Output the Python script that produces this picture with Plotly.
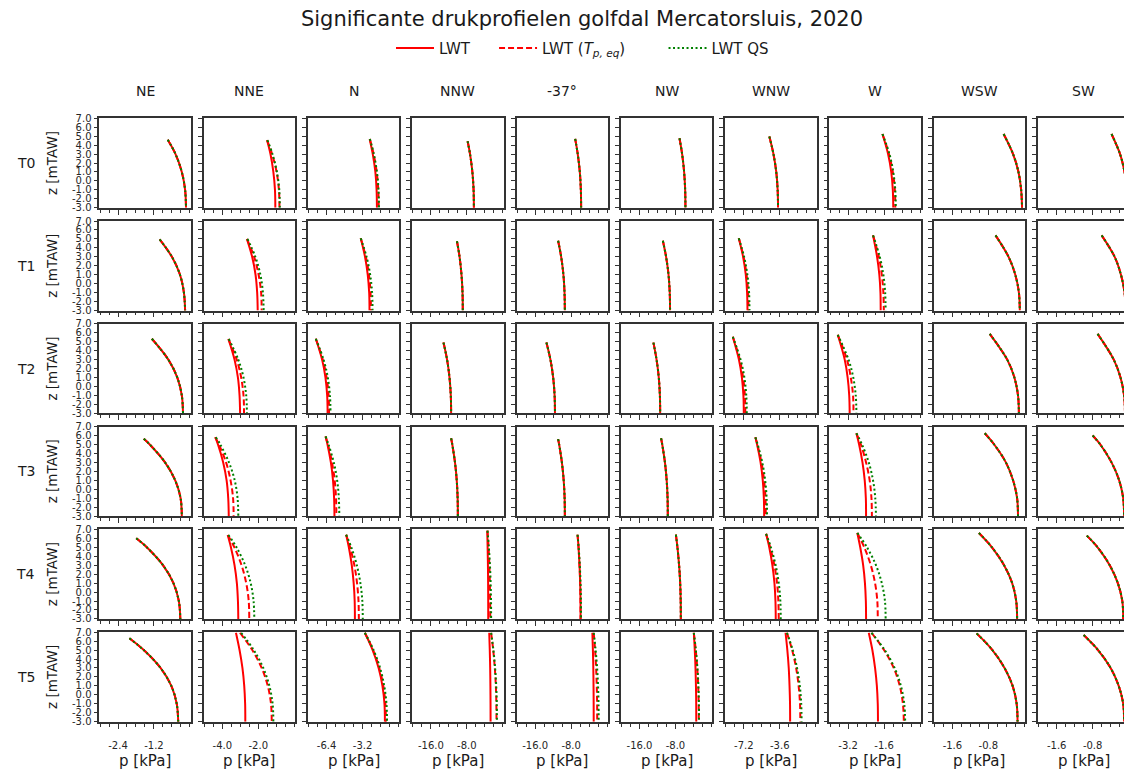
import plotly.graph_objects as go

W, H = 1124, 773

directions = ["NE", "NNE", "N", "NNW", "-37°", "NW", "WNW", "W", "WSW", "SW"]
storms = ["T0", "T1", "T2", "T3", "T4", "T5"]

# x axis per column: labelled ticks, minor tick step, axis extent (kPa)
x_major = [[-2.4, -1.2], [-4.0, -2.0], [-6.4, -3.2], [-16.0, -8.0], [-16.0, -8.0],
           [-16.0, -8.0], [-7.2, -3.6], [-3.2, -1.6], [-1.6, -0.8], [-1.6, -0.8]]
x_minor = [0.3, 0.5, 0.8, 2.0, 2.0, 2.0, 0.9, 0.4, 0.2, 0.2]
x_extent = [3.0, 5.0, 8.0, 20.0, 20.0, 20.0, 9.0, 4.0, 2.0, 2.0]

y_ticks = [-3.0, -2.0, -1.0, 0.0, 1.0, 2.0, 3.0, 4.0, 5.0, 6.0, 7.0]

# z levels below the profile top (m TAW)
Z_SHORT = [3.0, 1.0, -1.0, -3.0]
Z_LONG = [5.0, 3.0, 1.0, -1.0, -3.0]

# ---------------- T0 ----------------
T0_ztop = [4.6, 4.55, 4.69, 4.43, 4.69, 4.77, 4.95, 5.24, 5.24, 5.24]
T0_lwt = [[-0.74, -0.48, -0.27, -0.16, -0.13], [-1.51, -1.32, -1.16, -1.07, -1.05],
          [-2.57, -2.29, -2.06, -1.95, -1.92], [-7.83, -7.29, -6.77, -6.50, -6.43],
          [-7.10, -6.53, -6.07, -5.84, -5.78], [-7.10, -6.51, -6.07, -5.84, -5.78],
          [-4.64, -4.23, -3.95, -3.81, -3.77], [-1.67, -1.42, -1.28, -1.21, -1.19],
          [-0.46, -0.25, -0.13, -0.07, -0.05], [-0.38, -0.19, -0.09, -0.03, -0.02]]
T0_tpeq = [[-0.74, -0.48, -0.27, -0.16, -0.13], [-1.51, -1.23, -0.98, -0.85, -0.82],
           [-2.55, -2.21, -1.94, -1.80, -1.76], [-7.83, -7.29, -6.77, -6.50, -6.43],
           [-7.10, -6.53, -6.07, -5.84, -5.78], [-7.10, -6.51, -6.07, -5.84, -5.78],
           [-4.64, -4.23, -3.95, -3.81, -3.77], [-1.67, -1.38, -1.21, -1.12, -1.10],
           [-0.46, -0.25, -0.13, -0.07, -0.05], [-0.38, -0.19, -0.09, -0.03, -0.02]]
T0_qs = [[-0.74, -0.48, -0.27, -0.16, -0.13], [-1.49, -1.21, -0.96, -0.83, -0.80],
         [-2.55, -2.20, -1.92, -1.78, -1.74], [-7.83, -7.29, -6.77, -6.50, -6.43],
         [-7.10, -6.53, -6.07, -5.84, -5.78], [-7.10, -6.51, -6.07, -5.84, -5.78],
         [-4.64, -4.23, -3.95, -3.81, -3.77], [-1.67, -1.36, -1.19, -1.10, -1.08],
         [-0.46, -0.25, -0.13, -0.07, -0.05], [-0.38, -0.19, -0.09, -0.03, -0.02]]

# ---------------- T1 ----------------
T1_ztop = [4.96, 5.0, 5.07, 4.74, 4.8, 4.8, 5.07, 5.4, 5.4, 5.4]
T1_lwt = [[-1.01, -0.60, -0.33, -0.20, -0.16], [-2.63, -2.34, -2.15, -2.06, -2.03],
          [-3.36, -2.98, -2.74, -2.61, -2.58], [-10.2, -9.62, -9.19, -8.96, -8.9],
          [-10.9, -10.22, -9.72, -9.47, -9.4], [-10.8, -10.08, -9.54, -9.27, -9.2],
          [-7.7, -7.27, -7.00, -6.87, -6.83], [-2.09, -1.91, -1.81, -1.76, -1.75],
          [-0.64, -0.35, -0.20, -0.12, -0.10], [-0.60, -0.31, -0.17, -0.09, -0.07]]
T1_tpeq = [[-1.01, -0.60, -0.33, -0.20, -0.16], [-2.63, -2.23, -1.98, -1.84, -1.81],
           [-3.36, -2.91, -2.63, -2.49, -2.45], [-10.2, -9.62, -9.19, -8.96, -8.9],
           [-10.9, -10.22, -9.72, -9.47, -9.4], [-10.8, -10.08, -9.54, -9.27, -9.2],
           [-7.7, -7.22, -6.92, -6.77, -6.73], [-2.09, -1.83, -1.70, -1.63, -1.61],
           [-0.64, -0.35, -0.20, -0.12, -0.10], [-0.60, -0.31, -0.17, -0.09, -0.07]]
T1_qs = [[-1.01, -0.60, -0.33, -0.20, -0.16], [-2.60, -2.16, -1.88, -1.74, -1.70],
         [-3.36, -2.84, -2.52, -2.35, -2.31], [-10.2, -9.62, -9.19, -8.96, -8.9],
         [-10.9, -10.22, -9.72, -9.47, -9.4], [-10.8, -10.08, -9.54, -9.27, -9.2],
         [-7.7, -7.17, -6.84, -6.67, -6.63], [-2.09, -1.79, -1.63, -1.55, -1.53],
         [-0.64, -0.35, -0.20, -0.12, -0.10], [-0.60, -0.31, -0.17, -0.09, -0.07]]

# ---------------- T2 ----------------
T2_ztop = [5.33, 5.3, 5.33, 4.9, 4.9, 4.9, 5.55, 5.77, 5.88, 5.88]
T2_lwt = [[-1.27, -0.72, -0.42, -0.27, -0.23], [-3.66, -3.32, -3.13, -3.04, -3.01],
          [-7.36, -6.80, -6.50, -6.35, -6.31], [-13.2, -12.40, -11.86, -11.57, -11.5],
          [-13.5, -12.61, -12.00, -11.68, -11.6], [-12.9, -12.20, -11.71, -11.46, -11.4],
          [-8.3, -7.69, -7.39, -7.24, -7.2], [-3.66, -3.35, -3.22, -3.15, -3.13],
          [-0.77, -0.38, -0.22, -0.14, -0.12], [-0.69, -0.33, -0.18, -0.10, -0.08]]
T2_tpeq = [[-1.27, -0.72, -0.42, -0.27, -0.23], [-3.66, -3.20, -2.95, -2.82, -2.79],
           [-7.36, -6.74, -6.40, -6.22, -6.18], [-13.2, -12.40, -11.86, -11.57, -11.5],
           [-13.5, -12.61, -12.00, -11.68, -11.6], [-12.9, -12.20, -11.71, -11.46, -11.4],
           [-8.3, -7.60, -7.27, -7.09, -7.05], [-3.66, -3.25, -3.08, -2.98, -2.96],
           [-0.77, -0.38, -0.22, -0.14, -0.12], [-0.69, -0.33, -0.18, -0.10, -0.08]]
T2_qs = [[-1.27, -0.72, -0.42, -0.27, -0.23], [-3.64, -3.11, -2.82, -2.67, -2.63],
         [-7.36, -6.67, -6.29, -6.10, -6.05], [-13.2, -12.40, -11.86, -11.57, -11.5],
         [-13.5, -12.61, -12.00, -11.68, -11.6], [-12.9, -12.20, -11.71, -11.46, -11.4],
         [-8.3, -7.52, -7.14, -6.95, -6.9], [-3.66, -3.18, -2.97, -2.86, -2.83],
         [-0.77, -0.38, -0.22, -0.14, -0.12], [-0.69, -0.33, -0.18, -0.10, -0.08]]

# ---------------- T3 ----------------
T3_ztop = [5.63, 5.81, 5.9, 5.7, 5.6, 5.7, 5.8, 6.25, 6.25, 6.0]
T3_lwt = [[-1.54, -1.34, -0.83, -0.49, -0.31, -0.27], [-4.39, -4.24, -3.95, -3.76, -3.67, -3.64],
          [-6.49, -6.32, -6.02, -5.83, -5.73, -5.70], [-11.5, -11.24, -10.64, -10.25, -10.05, -10.0],
          [-10.9, -10.67, -10.06, -9.66, -9.45, -9.4], [-11.2, -10.94, -10.34, -9.95, -9.75, -9.7],
          [-6.04, -5.87, -5.52, -5.30, -5.19, -5.16], [-2.83, -2.71, -2.56, -2.46, -2.41, -2.40],
          [-0.88, -0.67, -0.41, -0.25, -0.16, -0.14], [-0.80, -0.63, -0.38, -0.21, -0.12, -0.10]]
T3_tpeq = [[-1.54, -1.34, -0.83, -0.49, -0.31, -0.27], [-4.39, -4.19, -3.79, -3.54, -3.40, -3.37],
           [-6.49, -6.28, -5.92, -5.68, -5.56, -5.53], [-11.5, -11.24, -10.64, -10.25, -10.05, -10.0],
           [-10.9, -10.67, -10.06, -9.66, -9.45, -9.4], [-11.2, -10.94, -10.34, -9.95, -9.75, -9.7],
           [-6.04, -5.84, -5.43, -5.17, -5.03, -5.0], [-2.83, -2.63, -2.40, -2.24, -2.16, -2.14],
           [-0.88, -0.67, -0.41, -0.25, -0.16, -0.14], [-0.80, -0.63, -0.38, -0.21, -0.12, -0.10]]
T3_qs = [[-1.54, -1.34, -0.83, -0.49, -0.31, -0.27], [-4.36, -4.11, -3.63, -3.31, -3.15, -3.11],
         [-6.49, -6.23, -5.76, -5.46, -5.31, -5.27], [-11.5, -11.24, -10.64, -10.25, -10.05, -10.0],
         [-10.9, -10.67, -10.06, -9.66, -9.45, -9.4], [-11.2, -10.94, -10.34, -9.95, -9.75, -9.7],
         [-6.04, -5.81, -5.35, -5.06, -4.91, -4.87], [-2.83, -2.58, -2.28, -2.09, -1.99, -1.96],
         [-0.88, -0.67, -0.41, -0.25, -0.16, -0.14], [-0.80, -0.63, -0.38, -0.21, -0.12, -0.10]]

# ---------------- T4 ----------------
T4_ztop = [6.0, 6.37, 6.4, 6.85, 6.4, 6.4, 6.5, 6.6, 6.6, 6.3]
T4_lwt = [[-1.79, -1.44, -0.90, -0.55, -0.37, -0.32], [-3.70, -3.52, -3.32, -3.19, -3.13, -3.11],
          [-4.66, -4.42, -4.16, -3.99, -3.90, -3.88], [-3.46, -3.38, -3.31, -3.27, -3.25, -3.24],
          [-6.57, -6.36, -6.14, -5.99, -5.92, -5.90], [-7.9, -7.56, -7.19, -6.95, -6.83, -6.80],
          [-4.97, -4.65, -4.34, -4.13, -4.03, -4.0], [-2.79, -2.66, -2.53, -2.45, -2.41, -2.40],
          [-1.01, -0.72, -0.45, -0.27, -0.18, -0.16], [-0.93, -0.69, -0.42, -0.24, -0.14, -0.12]]
T4_tpeq = [[-1.79, -1.44, -0.90, -0.55, -0.37, -0.32], [-3.70, -3.33, -2.93, -2.67, -2.53, -2.50],
           [-4.66, -4.31, -3.93, -3.69, -3.56, -3.53], [-3.40, -3.17, -2.99, -2.88, -2.82, -2.80],
           [-6.57, -6.36, -6.14, -5.99, -5.92, -5.90], [-7.9, -7.56, -7.19, -6.95, -6.83, -6.80],
           [-4.97, -4.56, -4.14, -3.87, -3.74, -3.70], [-2.79, -2.48, -2.19, -2.00, -1.90, -1.88],
           [-1.01, -0.72, -0.45, -0.27, -0.18, -0.16], [-0.93, -0.69, -0.42, -0.24, -0.14, -0.12]]
T4_qs = [[-1.79, -1.44, -0.90, -0.55, -0.37, -0.32], [-3.66, -3.21, -2.73, -2.42, -2.26, -2.22],
         [-4.66, -4.20, -3.71, -3.39, -3.22, -3.18], [-3.40, -3.10, -2.86, -2.70, -2.62, -2.60],
         [-6.57, -6.33, -6.07, -5.91, -5.82, -5.80], [-7.9, -7.56, -7.19, -6.95, -6.83, -6.80],
         [-4.97, -4.49, -4.01, -3.70, -3.54, -3.50], [-2.79, -2.36, -1.96, -1.70, -1.56, -1.53],
         [-1.01, -0.72, -0.45, -0.27, -0.18, -0.16], [-0.93, -0.69, -0.42, -0.24, -0.14, -0.12]]

# ---------------- T5 ----------------
T5_ztop = [6.31, 6.93, 6.93, 6.93, 6.93, 6.93, 6.93, 6.93, 6.86, 6.67]
T5_lwt = [[-2.02, -1.54, -0.98, -0.62, -0.44, -0.39], [-3.24, -3.04, -2.88, -2.78, -2.73, -2.72],
          [-3.0, -2.30, -1.77, -1.43, -1.25, -1.21], [-3.02, -2.90, -2.81, -2.76, -2.73, -2.72],
          [-3.28, -3.16, -3.07, -3.02, -2.99, -2.98], [-3.91, -3.70, -3.54, -3.44, -3.38, -3.37],
          [-3.02, -2.84, -2.70, -2.62, -2.57, -2.56], [-2.28, -2.12, -2.00, -1.92, -1.88, -1.87],
          [-1.06, -0.71, -0.44, -0.26, -0.17, -0.15], [-1.0, -0.68, -0.40, -0.22, -0.12, -0.10]]
T5_tpeq = [[-2.02, -1.54, -0.98, -0.62, -0.44, -0.39], [-3.02, -2.33, -1.81, -1.47, -1.29, -1.25],
           [-3.0, -2.26, -1.71, -1.35, -1.17, -1.12], [-2.6, -2.13, -1.78, -1.55, -1.43, -1.40],
           [-2.98, -2.67, -2.45, -2.30, -2.22, -2.2], [-3.91, -3.48, -3.15, -2.94, -2.83, -2.8],
           [-2.88, -2.36, -1.96, -1.71, -1.57, -1.54], [-2.16, -1.60, -1.17, -0.90, -0.76, -0.72],
           [-1.06, -0.71, -0.44, -0.26, -0.17, -0.15], [-1.0, -0.68, -0.40, -0.22, -0.12, -0.10]]
T5_qs = [[-2.02, -1.54, -0.98, -0.62, -0.44, -0.39], [-2.95, -2.25, -1.72, -1.38, -1.20, -1.16],
         [-3.0, -2.22, -1.64, -1.27, -1.07, -1.02], [-2.6, -2.09, -1.71, -1.46, -1.33, -1.30],
         [-2.98, -2.55, -2.22, -2.01, -1.90, -1.87], [-3.91, -3.46, -3.11, -2.89, -2.78, -2.75],
         [-2.88, -2.30, -1.87, -1.59, -1.45, -1.41], [-2.16, -1.57, -1.13, -0.85, -0.70, -0.66],
         [-1.06, -0.71, -0.44, -0.26, -0.17, -0.15], [-1.0, -0.68, -0.40, -0.22, -0.12, -0.10]]

rows = [
    (T0_ztop, T0_lwt, T0_tpeq, T0_qs, Z_SHORT),
    (T1_ztop, T1_lwt, T1_tpeq, T1_qs, Z_SHORT),
    (T2_ztop, T2_lwt, T2_tpeq, T2_qs, Z_SHORT),
    (T3_ztop, T3_lwt, T3_tpeq, T3_qs, Z_LONG),
    (T4_ztop, T4_lwt, T4_tpeq, T4_qs, Z_LONG),
    (T5_ztop, T5_lwt, T5_tpeq, T5_qs, Z_LONG),
]

series = [
    ("LWT" + "\u00a0" * 4, dict(color="#ff0000", width=2.0, dash="solid")),
    ("LWT (<i>T</i><sub><i>p, eq</i></sub>)" + "\u00a0" * 7,
     dict(color="#ff0000", width=2.0, dash="6px,3px")),
    ("LWT QS", dict(color="#008000", width=2.0, dash="2px,2.5px")),
]

FONT = "DejaVu Sans"
TXT = "#1a1a1a"
AXC = "#333333"

# panel geometry (pixels)
COL_LEFT0, COL_STEP, PANEL_W = 99.3, 104.3, 91.5
ROW_TOP0, ROW_STEP, PANEL_H = 114.0, 104.4, 91.0

fig = go.Figure()
layout = {}
annotations = []

for r in range(6):
    ztop, lwt, tpeq, qs, zl = rows[r]
    for c in range(10):
        n = r * 10 + c + 1
        xname = "x" if n == 1 else f"x{n}"
        yname = "y" if n == 1 else f"y{n}"
        zs = [ztop[c]] + zl
        for s, (name, ls) in enumerate(series):
            vals = [lwt, tpeq, qs][s][c]
            fig.add_trace(go.Scatter(
                x=vals, y=zs, mode="lines", name=name,
                line=dict(shape="spline", smoothing=1.0, **ls),
                xaxis=xname, yaxis=yname,
                showlegend=(n == 1), legendgroup=str(s), hoverinfo="skip"))

        left = COL_LEFT0 + COL_STEP * c
        right = left + PANEL_W
        ext = x_extent[c]
        lo, hi = -ext * 1.008, ext * 0.01
        clipped = right > W
        if clipped:
            frac = (W - left) / PANEL_W
            hi = lo + (hi - lo) * frac
            right = W
        top = ROW_TOP0 + ROW_STEP * r
        bottom = top + PANEL_H

        xa = dict(
            domain=[left / W, right / W], range=[lo, hi], anchor=yname,
            showline=True, mirror=True, linecolor=AXC, linewidth=1.6,
            showgrid=False, zeroline=False,
            tickmode="array", tickvals=x_major[c],
            ticktext=[f"{v:.1f}" for v in x_major[c]],
            ticks="outside", ticklen=5, tickwidth=1.2, tickcolor=AXC,
            showticklabels=(r == 5), ticklabelstandoff=8,
            tickfont=dict(family=FONT, size=10, color="#262626"),
            minor=dict(tickmode="linear", tick0=0, dtick=x_minor[c],
                       ticks="outside", ticklen=3, tickwidth=1.1, tickcolor=AXC,
                       showgrid=False),
            fixedrange=True,
        )
        ya = dict(
            domain=[1 - bottom / H, 1 - top / H], range=[-3, 7], anchor=xname,
            showline=True, mirror=not clipped, linecolor=AXC, linewidth=1.6,
            showgrid=False, zeroline=False,
            tickmode="array", tickvals=y_ticks,
            ticktext=[f"{v:.1f}" for v in y_ticks],
            ticks="outside", ticklen=4, tickwidth=1.2, tickcolor=AXC,
            showticklabels=(c == 0),
            tickfont=dict(family=FONT, size=10, color="#262626"),
            fixedrange=True,
        )
        layout["xaxis" if n == 1 else f"xaxis{n}"] = xa
        layout["yaxis" if n == 1 else f"yaxis{n}"] = ya

# column titles and x labels
for c in range(10):
    cx = COL_LEFT0 + COL_STEP * c + PANEL_W / 2
    annotations.append(dict(text=directions[c], x=cx / W, y=1 - 86 / H,
                            xref="paper", yref="paper", showarrow=False,
                            xanchor="center", yanchor="middle",
                            font=dict(family=FONT, size=14, color=TXT)))
    annotations.append(dict(text="p [kPa]", x=cx / W, y=1 - 762 / H,
                            xref="paper", yref="paper", showarrow=False,
                            xanchor="center", yanchor="middle", yshift=-5,
                            font=dict(family=FONT, size=15, color=TXT)))

# row labels and y labels
for r in range(6):
    cy = ROW_TOP0 + ROW_STEP * r + PANEL_H / 2
    annotations.append(dict(text=storms[r], x=26 / W, y=1 - cy / H,
                            xref="paper", yref="paper", showarrow=False,
                            xanchor="center", yanchor="middle",
                            font=dict(family=FONT, size=14, color=TXT)))
    annotations.append(dict(text="z [mTAW]", x=52 / W, y=1 - cy / H,
                            xref="paper", yref="paper", showarrow=False,
                            xanchor="center", yanchor="middle", textangle=-90,
                            font=dict(family=FONT, size=13.5, color=TXT)))

fig.update_layout(
    width=W, height=H,
    margin=dict(l=0, r=0, t=0, b=0),
    paper_bgcolor="white", plot_bgcolor="white",
    font=dict(family=FONT, color=TXT),
    title=dict(text="Significante drukprofielen golfdal Mercatorsluis, 2020",
               x=582 / W, xanchor="center", y=1 - 19 / H, yanchor="middle",
               font=dict(family=FONT, size=21, color=TXT)),
    legend=dict(orientation="h", x=391 / W, xanchor="left", y=1 - 43 / H,
                yanchor="middle", font=dict(family=FONT, size=15, color=TXT),
                itemwidth=38,
                bgcolor="rgba(0,0,0,0)", itemclick=False, itemdoubleclick=False),
    annotations=annotations,
    hovermode=False,
    **layout,
)

fig.write_html("out.html", config={"displayModeBar": False})
